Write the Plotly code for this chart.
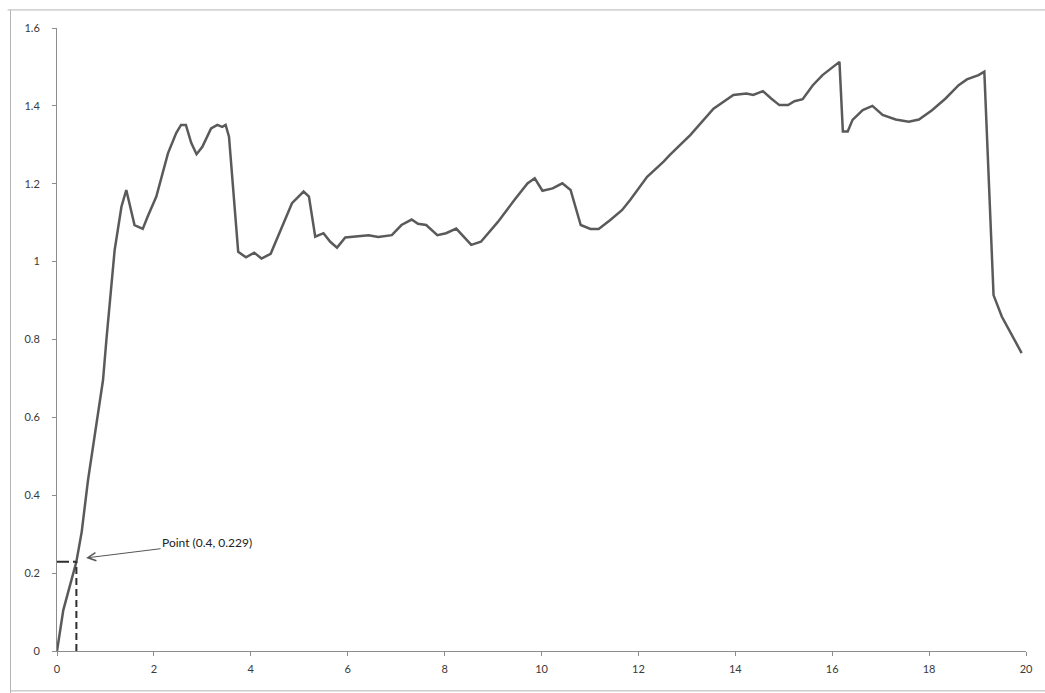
import plotly.graph_objects as go

# Measured curve (x, y)
x_vals = [0, 0.13, 0.4, 0.51, 0.64, 0.88, 0.95, 1.02, 1.19, 1.33, 1.43, 1.60, 1.77, 1.87,
          2.05, 2.29, 2.46, 2.56, 2.66, 2.77, 2.88, 3.00, 3.18, 3.31, 3.41, 3.48, 3.55,
          3.74, 3.90, 4.07, 4.22, 4.41, 4.65, 4.85, 5.09, 5.20, 5.33, 5.50, 5.64, 5.78,
          5.95, 6.15, 6.43, 6.63, 6.91, 7.11, 7.32, 7.45, 7.62, 7.85, 8.03, 8.24, 8.55,
          8.75, 9.10, 9.44, 9.71, 9.86, 10.02, 10.23, 10.43, 10.60, 10.81, 11.01, 11.18,
          11.42, 11.66, 11.83, 12.18, 12.52, 12.65, 13.07, 13.55, 13.96, 14.23, 14.37,
          14.57, 14.74, 14.91, 15.09, 15.22, 15.39, 15.60, 15.80, 16.15, 16.22, 16.32,
          16.42, 16.63, 16.83, 17.04, 17.31, 17.58, 17.79, 18.06, 18.34, 18.61, 18.78,
          19.02, 19.14, 19.33, 19.50, 19.71, 19.91]
y_vals = [0, 0.105, 0.229, 0.306, 0.439, 0.645, 0.696, 0.80, 1.03, 1.141, 1.184, 1.094,
          1.084, 1.115, 1.167, 1.278, 1.330, 1.351, 1.351, 1.305, 1.276, 1.295, 1.342,
          1.351, 1.346, 1.351, 1.321, 1.025, 1.011, 1.023, 1.008, 1.020, 1.090, 1.150,
          1.180, 1.167, 1.064, 1.073, 1.051, 1.036, 1.062, 1.064, 1.068, 1.063, 1.068,
          1.094, 1.108, 1.097, 1.094, 1.068, 1.073, 1.085, 1.043, 1.051, 1.102, 1.158,
          1.201, 1.214, 1.182, 1.188, 1.201, 1.184, 1.094, 1.084, 1.084, 1.107, 1.132,
          1.158, 1.218, 1.257, 1.274, 1.325, 1.393, 1.428, 1.432, 1.428, 1.438, 1.419,
          1.402, 1.402, 1.412, 1.417, 1.453, 1.479, 1.513, 1.334, 1.334, 1.364, 1.389,
          1.400, 1.377, 1.365, 1.359, 1.365, 1.389, 1.419, 1.453, 1.468, 1.479, 1.488,
          0.914, 0.859, 0.812, 0.765]

# Marked point
point_x = 0.4
point_y = 0.229
point_label = "Point (0.4, 0.229)"

x_ticks = [0, 2, 4, 6, 8, 10, 12, 14, 16, 18, 20]
y_ticks = [0, 0.2, 0.4, 0.6, 0.8, 1.0, 1.2, 1.4, 1.6]
y_tick_text = ["0", "0.2", "0.4", "0.6", "0.8", "1", "1.2", "1.4", "1.6"]

font_family = "Lato, 'Open Sans', sans-serif"

fig = go.Figure()
fig.add_trace(go.Scatter(
    x=x_vals, y=y_vals, mode="lines",
    line=dict(color="#5a5a5a", width=2.5),
    showlegend=False, hoverinfo="skip",
))

shapes = [
    # dashed guides to the marked point
    dict(type="line", xref="x", yref="y", x0=point_x, x1=point_x, y0=0, y1=point_y,
         line=dict(color="#2e2e2e", width=2, dash="7px,4px")),
    dict(type="line", xref="x", yref="y", x0=0, x1=point_x, y0=point_y, y1=point_y,
         line=dict(color="#2e2e2e", width=2, dash="12px,4px")),
    # outer frame
    dict(type="line", xref="paper", yref="paper", x0=-0.051, x1=1.03, y0=1.029, y1=1.029,
         line=dict(color="#b5b5b5", width=1)),
    dict(type="line", xref="paper", yref="paper", x0=-0.048, x1=-0.048, y0=1.029, y1=-0.07,
         line=dict(color="#b5b5b5", width=1)),
    dict(type="line", xref="paper", yref="paper", x0=-0.048, x1=1.03, y0=-0.064, y1=-0.064,
         line=dict(color="#b5b5b5", width=1)),
]

fig.update_layout(
    width=1045, height=693,
    margin=dict(l=57, r=14, t=28, b=42),
    paper_bgcolor="white", plot_bgcolor="white",
    font=dict(family=font_family, size=11, color="#3a3a3a"),
    shapes=shapes,
    annotations=[dict(
        x=0.6, y=0.239, xref="x", yref="y",
        text=point_label, showarrow=True,
        ax=121, ay=-15,
        arrowhead=5, arrowsize=1.6, arrowwidth=1, arrowcolor="#555555",
        font=dict(family=font_family, size=12, color="#222222"),
    )],
)

fig.update_xaxes(
    range=[0, 20], tickvals=x_ticks, showgrid=False, zeroline=False,
    showline=True, linecolor="#8c8c8c", linewidth=1,
    ticks="outside", ticklen=4, tickcolor="#8c8c8c", ticklabelstandoff=4,
)
fig.update_yaxes(
    range=[0, 1.6], tickvals=y_ticks, ticktext=y_tick_text, showgrid=False, zeroline=False,
    showline=True, linecolor="#8c8c8c", linewidth=1,
    ticks="outside", ticklen=4, tickcolor="#8c8c8c", ticklabelstandoff=10,
)

fig.write_html("out.html")
